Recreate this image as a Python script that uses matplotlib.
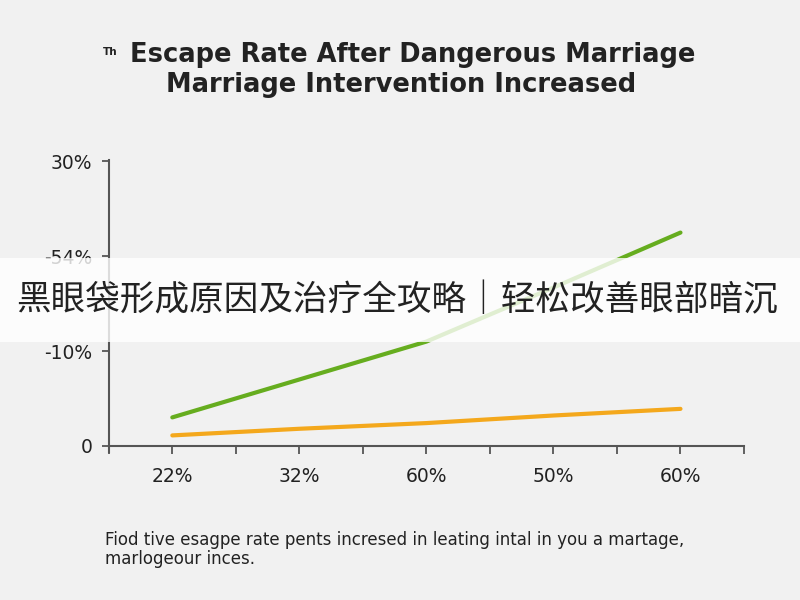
import matplotlib.pyplot as plt
import matplotlib.patches as mpatches

plt.rcParams['font.family'] = ['DejaVu Sans', 'Noto Sans CJK SC']

# data (y in tick-slot units: 0 = "0", 1 = "-10%", ...)
x_labels = ['22%', '32%', '60%', '50%', '60%']
y_labels = ['0', '-10%', '-54%', '30%']
green_vals = [0.30, 0.70, 1.10, 1.67, 2.25]
orange_vals = [0.11, 0.18, 0.24, 0.32, 0.39]

x_pos = [1, 3, 5, 7, 9]

bg = '#f1f1f1'
fig = plt.figure(figsize=(8, 6), dpi=100, facecolor=bg)
ax = fig.add_axes([0.136, 0.247, 0.794, 0.487], facecolor=bg)

ax.plot(x_pos, green_vals, color='#66ad1f', lw=3, solid_capstyle='round')
ax.plot(x_pos, orange_vals, color='#f4a81c', lw=3, solid_capstyle='round')

ax.set_xlim(0, 10)
ax.set_ylim(-0.063, 3.02)

for s in ['top', 'right']:
    ax.spines[s].set_visible(False)
ax.spines['bottom'].set_position(('data', 0))
for s in ['left', 'bottom']:
    ax.spines[s].set_color('#555555')
    ax.spines[s].set_linewidth(1.5)

ax.set_xticks(range(11))
ax.set_xticklabels(['' if i not in x_pos else x_labels[x_pos.index(i)]
                    for i in range(11)])
ax.set_yticks(range(len(y_labels)))
ax.set_yticklabels(y_labels)
ax.tick_params(axis='x', length=6, width=1.3, color='#555555', pad=9,
               labelsize=13.5, labelcolor='#222222')
ax.tick_params(axis='y', length=5, width=1.3, color='#555555', pad=7,
               labelsize=13.5, labelcolor='#222222')

# title
fig.text(0.516, 0.908, 'Escape Rate After Dangerous Marriage', ha='center',
         va='center', fontsize=18.5, fontweight='bold', color='#222222')
fig.text(0.501, 0.858, 'Marriage Intervention Increased', ha='center',
         va='center', fontsize=18.5, fontweight='bold', color='#222222')
fig.text(0.129, 0.913, 'Th', ha='left', va='center', fontsize=7.5,
         fontweight='bold', color='#222222')

# footer
fig.text(0.131, 0.084, 'Fiod tive esagpe rate pents incresed in leating intal '
         'in you a martage,\nmarlogeour inces.', ha='left', va='center',
         fontsize=12, color='#222222', linespacing=1.1)

# banner
fig.patches.append(mpatches.Rectangle((0, 0.43), 1, 0.14, transform=fig.transFigure,
                                      facecolor='#ffffff', alpha=0.8,
                                      edgecolor='none', zorder=5))
fig.text(0.496, 0.5, '黑眼袋形成原因及治疗全攻略｜轻松改善眼部暗沉', ha='center',
         va='center', fontsize=24.9, color='#222222', zorder=6,
         family=['Noto Sans CJK SC', 'DejaVu Sans'])

fig.savefig('out.png', dpi=100, facecolor=bg)
